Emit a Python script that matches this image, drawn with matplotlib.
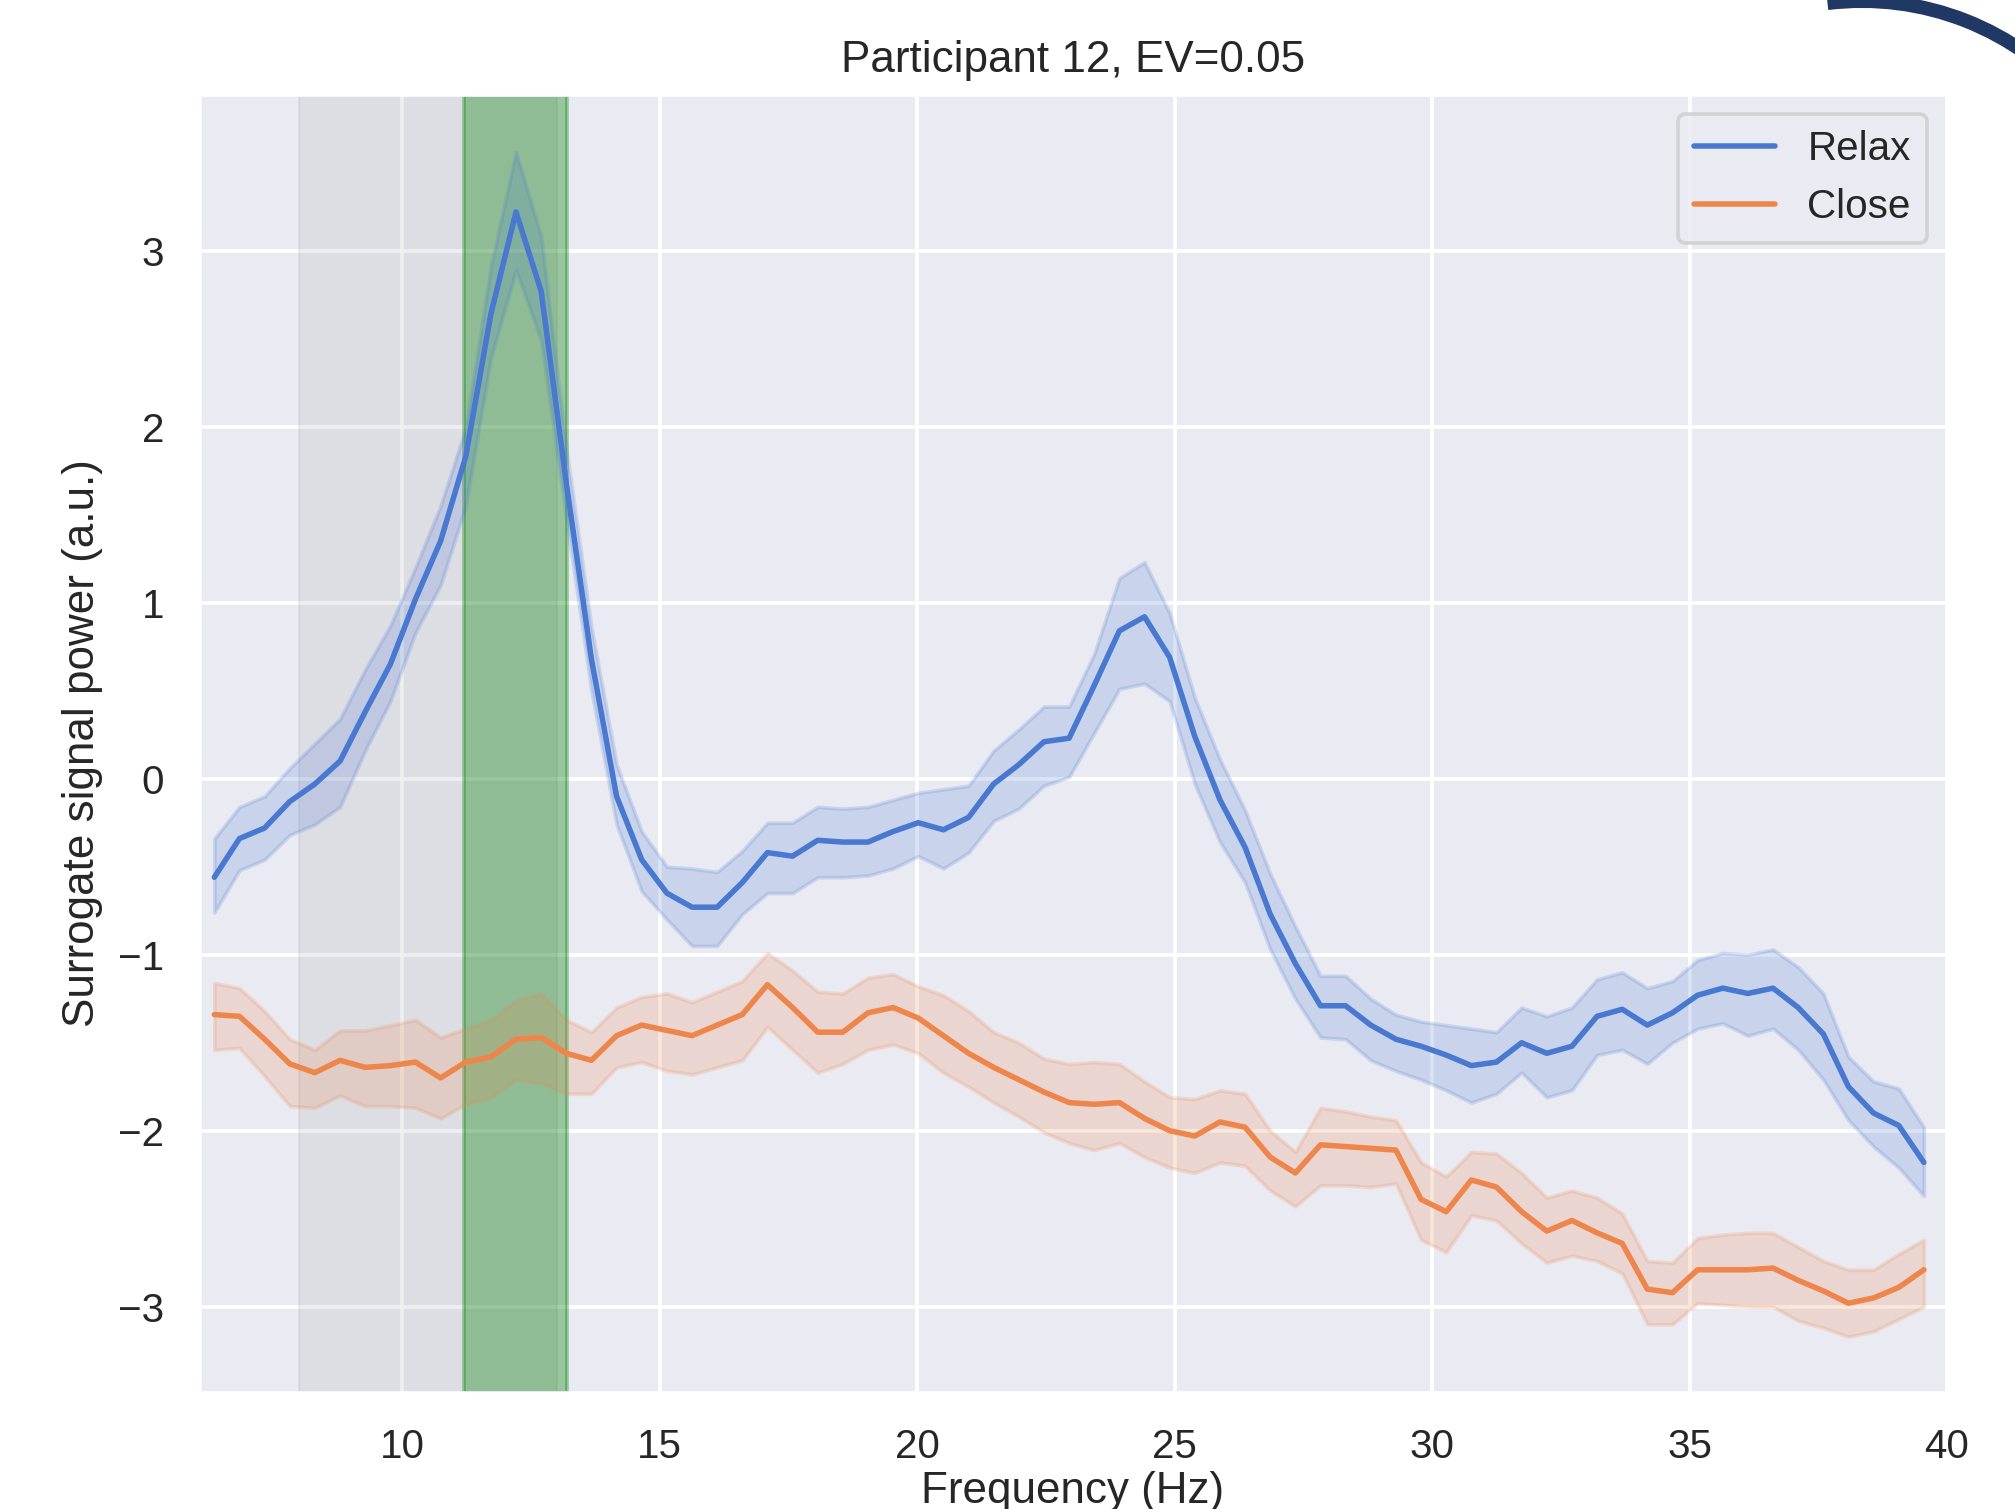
import numpy as np
import matplotlib
matplotlib.use("Agg")
import matplotlib.pyplot as plt
from matplotlib.patches import Arc
import seaborn as sns

# frequency bins (fs=250 Hz, nfft=512), bins 13..81
freqs = np.arange(13, 82) * 250 / 512

relax_mean = [-0.56, -0.34, -0.28, -0.13, -0.03, 0.10, 0.38, 0.65, 1.02, 1.35,
              1.83, 2.64, 3.22, 2.77, 1.68, 0.68, -0.10, -0.46, -0.65, -0.73,
              -0.73, -0.59, -0.42, -0.44, -0.35, -0.36, -0.36, -0.30, -0.25, -0.29,
              -0.22, -0.03, 0.08, 0.21, 0.23, 0.53, 0.84, 0.92, 0.69, 0.24,
              -0.12, -0.39, -0.77, -1.05, -1.29, -1.29, -1.40, -1.48, -1.52, -1.57,
              -1.63, -1.61, -1.50, -1.56, -1.52, -1.35, -1.31, -1.40, -1.33, -1.23,
              -1.19, -1.22, -1.19, -1.30, -1.45, -1.75, -1.90, -1.97, -2.18]
relax_hi = [-0.34, -0.16, -0.10, 0.06, 0.20, 0.34, 0.62, 0.87, 1.20, 1.55,
            1.99, 2.91, 3.56, 3.08, 1.88, 0.86, 0.08, -0.30, -0.50, -0.51,
            -0.53, -0.41, -0.25, -0.25, -0.16, -0.17, -0.16, -0.12, -0.08, -0.06,
            -0.04, 0.16, 0.28, 0.41, 0.41, 0.71, 1.14, 1.23, 0.94, 0.46,
            0.11, -0.18, -0.54, -0.84, -1.12, -1.12, -1.25, -1.34, -1.38, -1.40,
            -1.42, -1.44, -1.30, -1.35, -1.30, -1.14, -1.10, -1.19, -1.15, -1.03,
            -0.99, -1.00, -0.97, -1.07, -1.22, -1.58, -1.72, -1.76, -1.98]
relax_lo = [-0.76, -0.52, -0.46, -0.32, -0.26, -0.16, 0.16, 0.44, 0.83, 1.10,
            1.55, 2.39, 2.89, 2.49, 1.48, 0.50, -0.26, -0.64, -0.80, -0.95,
            -0.95, -0.77, -0.65, -0.65, -0.56, -0.56, -0.55, -0.51, -0.44, -0.51,
            -0.42, -0.24, -0.17, -0.04, 0.01, 0.26, 0.51, 0.54, 0.44, -0.03,
            -0.36, -0.59, -0.97, -1.25, -1.47, -1.48, -1.60, -1.66, -1.71, -1.77,
            -1.84, -1.79, -1.67, -1.81, -1.77, -1.57, -1.54, -1.62, -1.50, -1.42,
            -1.39, -1.46, -1.42, -1.54, -1.71, -1.94, -2.09, -2.21, -2.37]

close_mean = [-1.34, -1.35, -1.48, -1.62, -1.67, -1.60, -1.64, -1.63, -1.61, -1.70,
              -1.61, -1.58, -1.48, -1.47, -1.56, -1.60, -1.46, -1.40, -1.43, -1.46,
              -1.40, -1.34, -1.17, -1.30, -1.44, -1.44, -1.33, -1.30, -1.36, -1.46,
              -1.56, -1.64, -1.71, -1.78, -1.84, -1.85, -1.84, -1.93, -2.00, -2.03,
              -1.95, -1.98, -2.15, -2.24, -2.08, -2.09, -2.10, -2.11, -2.39, -2.46,
              -2.28, -2.32, -2.46, -2.57, -2.51, -2.58, -2.64, -2.90, -2.92, -2.79,
              -2.79, -2.79, -2.78, -2.85, -2.91, -2.98, -2.95, -2.89, -2.79]
close_hi = [-1.16, -1.19, -1.32, -1.48, -1.54, -1.43, -1.43, -1.40, -1.37, -1.47,
            -1.42, -1.37, -1.26, -1.22, -1.37, -1.44, -1.30, -1.24, -1.22, -1.27,
            -1.21, -1.15, -0.99, -1.09, -1.21, -1.22, -1.13, -1.11, -1.18, -1.23,
            -1.32, -1.44, -1.50, -1.59, -1.62, -1.61, -1.62, -1.72, -1.81, -1.82,
            -1.77, -1.79, -2.00, -2.12, -1.87, -1.89, -1.92, -1.94, -2.18, -2.26,
            -2.12, -2.13, -2.24, -2.38, -2.34, -2.38, -2.47, -2.74, -2.75, -2.61,
            -2.59, -2.58, -2.58, -2.66, -2.74, -2.79, -2.79, -2.70, -2.62]
close_lo = [-1.54, -1.53, -1.69, -1.86, -1.87, -1.80, -1.86, -1.86, -1.87, -1.93,
            -1.85, -1.81, -1.71, -1.73, -1.79, -1.79, -1.64, -1.61, -1.66, -1.68,
            -1.64, -1.60, -1.41, -1.54, -1.67, -1.62, -1.54, -1.51, -1.56, -1.67,
            -1.75, -1.84, -1.92, -2.01, -2.07, -2.11, -2.07, -2.15, -2.21, -2.24,
            -2.18, -2.20, -2.34, -2.43, -2.31, -2.31, -2.32, -2.30, -2.62, -2.69,
            -2.48, -2.51, -2.64, -2.75, -2.71, -2.74, -2.81, -3.10, -3.10, -2.98,
            -2.99, -3.00, -3.00, -3.08, -3.12, -3.17, -3.14, -3.07, -3.00]

alpha_band = (8, 13)
peak_band = (11.2, 13.2)

sns.set_theme(style="darkgrid", palette="muted")
plt.rcParams["font.family"] = ["Liberation Sans", "DejaVu Sans"]

DPI = 264
fig = plt.figure(figsize=(2015 / DPI, 1509 / DPI), dpi=DPI)
ax = fig.add_axes([199 / 2015, 1 - 1393 / 1509, (1947 - 199) / 2015, (1393 - 94) / 1509])

pal = sns.color_palette("muted")
c_relax, c_close = pal[0], pal[1]

ax.axvspan(*alpha_band, color="gray", alpha=0.12, linewidth=0.5)
ax.axvspan(*peak_band, color="green", alpha=0.35)

ax.fill_between(freqs, relax_lo, relax_hi, color=c_relax, alpha=0.2)
ax.plot(freqs, relax_mean, color=c_relax, label="Relax")
ax.fill_between(freqs, close_lo, close_hi, color=c_close, alpha=0.2)
ax.plot(freqs, close_mean, color=c_close, label="Close")

ax.set_xlim(6.05, 40)
ax.set_ylim(-3.49, 3.89)
ax.set_title("Participant 12, EV=0.05")
ax.set_xlabel("Frequency (Hz)", labelpad=1.5)
ax.set_ylabel("Surrogate signal power (a.u.)")
ax.legend(loc="upper right")

# dark stroke cut off in the top right corner of the screenshot
ov = fig.add_axes([0, 0, 1, 1])
ov.set_xlim(0, 2015)
ov.set_ylim(1509, 0)
ov.axis("off")
ov.add_patch(Arc((1862, 284), 566, 566, theta1=263, theta2=320,
                 color="#1f3864", linewidth=3.8))

fig.savefig("out.png", dpi=DPI)
